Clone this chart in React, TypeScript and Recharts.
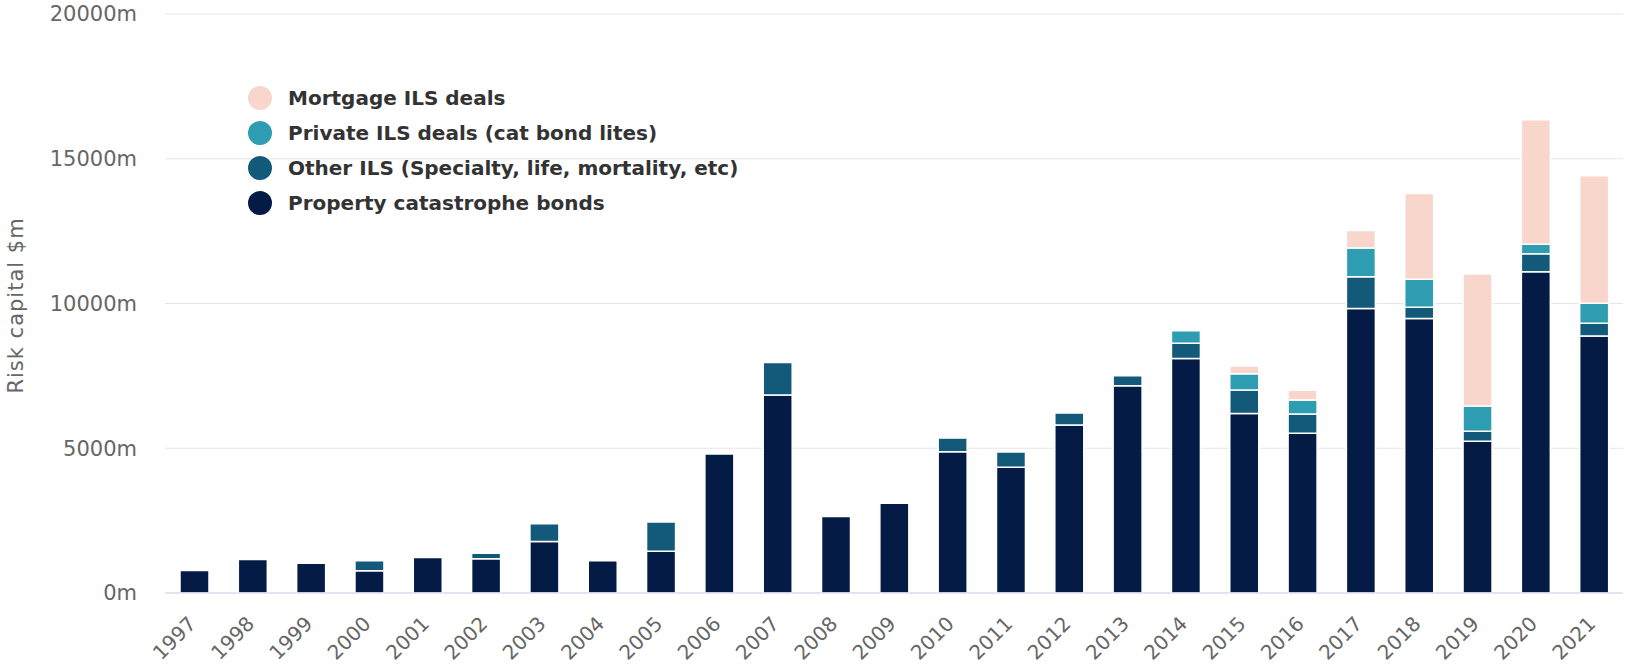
import { Bar, BarChart, CartesianGrid, Legend, XAxis, YAxis } from "recharts";

// ILS risk capital issued per year, $m
const years = [
  "1997", "1998", "1999", "2000", "2001", "2002", "2003", "2004", "2005",
  "2006", "2007", "2008", "2009", "2010", "2011", "2012", "2013", "2014",
  "2015", "2016", "2017", "2018", "2019", "2020", "2021",
];

const propertyCat = [
  780, 1160, 1030, 770, 1230, 1180, 1775, 1110, 1445, 4800, 6840, 2640, 3100,
  4880, 4340, 5800, 7160, 8100, 6200, 5520, 9830, 9480, 5240, 11100, 8880,
];
const otherIls = [
  0, 0, 0, 340, 0, 190, 620, 0, 1010, 0, 1120, 0, 0, 470, 530, 415, 345, 530,
  810, 660, 1090, 390, 350, 620, 440,
];
const privateIls = [
  0, 0, 0, 0, 0, 0, 0, 0, 0, 0, 0, 0, 0, 0, 0, 0, 0, 430, 560, 490, 1000, 970,
  870, 330, 690,
];
const mortgageIls = [
  0, 0, 0, 0, 0, 0, 0, 0, 0, 0, 0, 0, 0, 0, 0, 0, 0, 0, 270, 330, 600, 2960,
  4560, 4300, 4400,
];

const yTicks = [0, 5000, 10000, 15000, 20000];

// legend reads top-down from the top of the stack
const legendOrder = ["mortgage", "priv", "other", "property"];

const COLORS = {
  property: "#041c45",
  other: "#135a7a",
  priv: "#2f9db1",
  mortgage: "#f8d6cc",
};

const FONT = "'DejaVu Sans', Verdana, sans-serif";

const data = years.map((year, i) => ({
  year,
  property: propertyCat[i],
  other: otherIls[i],
  priv: privateIls[i],
  mortgage: mortgageIls[i],
}));

const YearTick = ({ x, y, payload }: any) => (
  <g transform={`translate(${x + 3},${y + 24})`}>
    <text
      x={0}
      y={0}
      textAnchor="end"
      transform="rotate(-45)"
      fill="#666"
      fontSize={20}
      fontFamily={FONT}
    >
      {payload.value}
    </text>
  </g>
);

const YTitle = ({ viewBox }: any) => {
  const cx = 16;
  const cy = viewBox.y + viewBox.height / 2 + 2;
  return (
    <text
      x={cx}
      y={cy}
      transform={`rotate(-90 ${cx} ${cy})`}
      textAnchor="middle"
      dominantBaseline="central"
      fill="#666"
      fontSize={21}
      letterSpacing={1}
      fontFamily={FONT}
    >
      Risk capital $m
    </text>
  );
};

const renderLegend = ({ payload }: any) => {
  const items = [...(payload || [])].sort(
    (a: any, b: any) =>
      legendOrder.indexOf(a.dataKey) - legendOrder.indexOf(b.dataKey)
  );
  return (
    <div>
      {items.map((entry: any) => (
        <div
          key={entry.value}
          style={{ display: "flex", alignItems: "center", height: 35 }}
        >
          <span
            style={{
              width: 24,
              height: 24,
              borderRadius: "50%",
              backgroundColor: entry.color,
              marginRight: 16,
              flexShrink: 0,
            }}
          />
          <span
            style={{
              fontFamily: FONT,
              fontWeight: "bold",
              fontSize: 20,
              color: "#333",
              whiteSpace: "nowrap",
            }}
          >
            {entry.value}
          </span>
        </div>
      ))}
    </div>
  );
};

export default function App() {
  return (
    <div style={{ width: 1627, height: 670, background: "#fff" }}>
      <style>{"body{margin:0}"}</style>
      <BarChart
        width={1627}
        height={670}
        data={data}
        margin={{ top: 14, right: 4, left: 0, bottom: 0 }}
      >
        <CartesianGrid vertical={false} stroke="#e6e6e6" />
        <XAxis
          dataKey="year"
          height={77}
          interval={0}
          tickLine={false}
          axisLine={{ stroke: "#ccd6eb" }}
          tick={<YearTick />}
        />
        <YAxis
          width={165}
          domain={[0, 20000]}
          ticks={yTicks}
          tickFormatter={(v) => `${v}m`}
          axisLine={false}
          tickLine={false}
          tickMargin={22}
          tick={{ fill: "#666", fontSize: 21, fontFamily: FONT }}
          label={<YTitle />}
        />
        <Legend
          layout="vertical"
          align="center"
          verticalAlign="middle"
          content={renderLegend}
          wrapperStyle={{ left: 248, top: 80, width: "auto", height: "auto" }}
        />
        <Bar
          dataKey="property"
          name="Property catastrophe bonds"
          stackId="a"
          fill={COLORS.property}
          stroke="#fff"
          strokeWidth={1.5}
          barSize={29}
          isAnimationActive={false}
        />
        <Bar
          dataKey="other"
          name="Other ILS (Specialty, life, mortality, etc)"
          stackId="a"
          fill={COLORS.other}
          stroke="#fff"
          strokeWidth={1.5}
          barSize={29}
          isAnimationActive={false}
        />
        <Bar
          dataKey="priv"
          name="Private ILS deals (cat bond lites)"
          stackId="a"
          fill={COLORS.priv}
          stroke="#fff"
          strokeWidth={1.5}
          barSize={29}
          isAnimationActive={false}
        />
        <Bar
          dataKey="mortgage"
          name="Mortgage ILS deals"
          stackId="a"
          fill={COLORS.mortgage}
          stroke="#fff"
          strokeWidth={1.5}
          barSize={29}
          isAnimationActive={false}
        />
      </BarChart>
    </div>
  );
}
